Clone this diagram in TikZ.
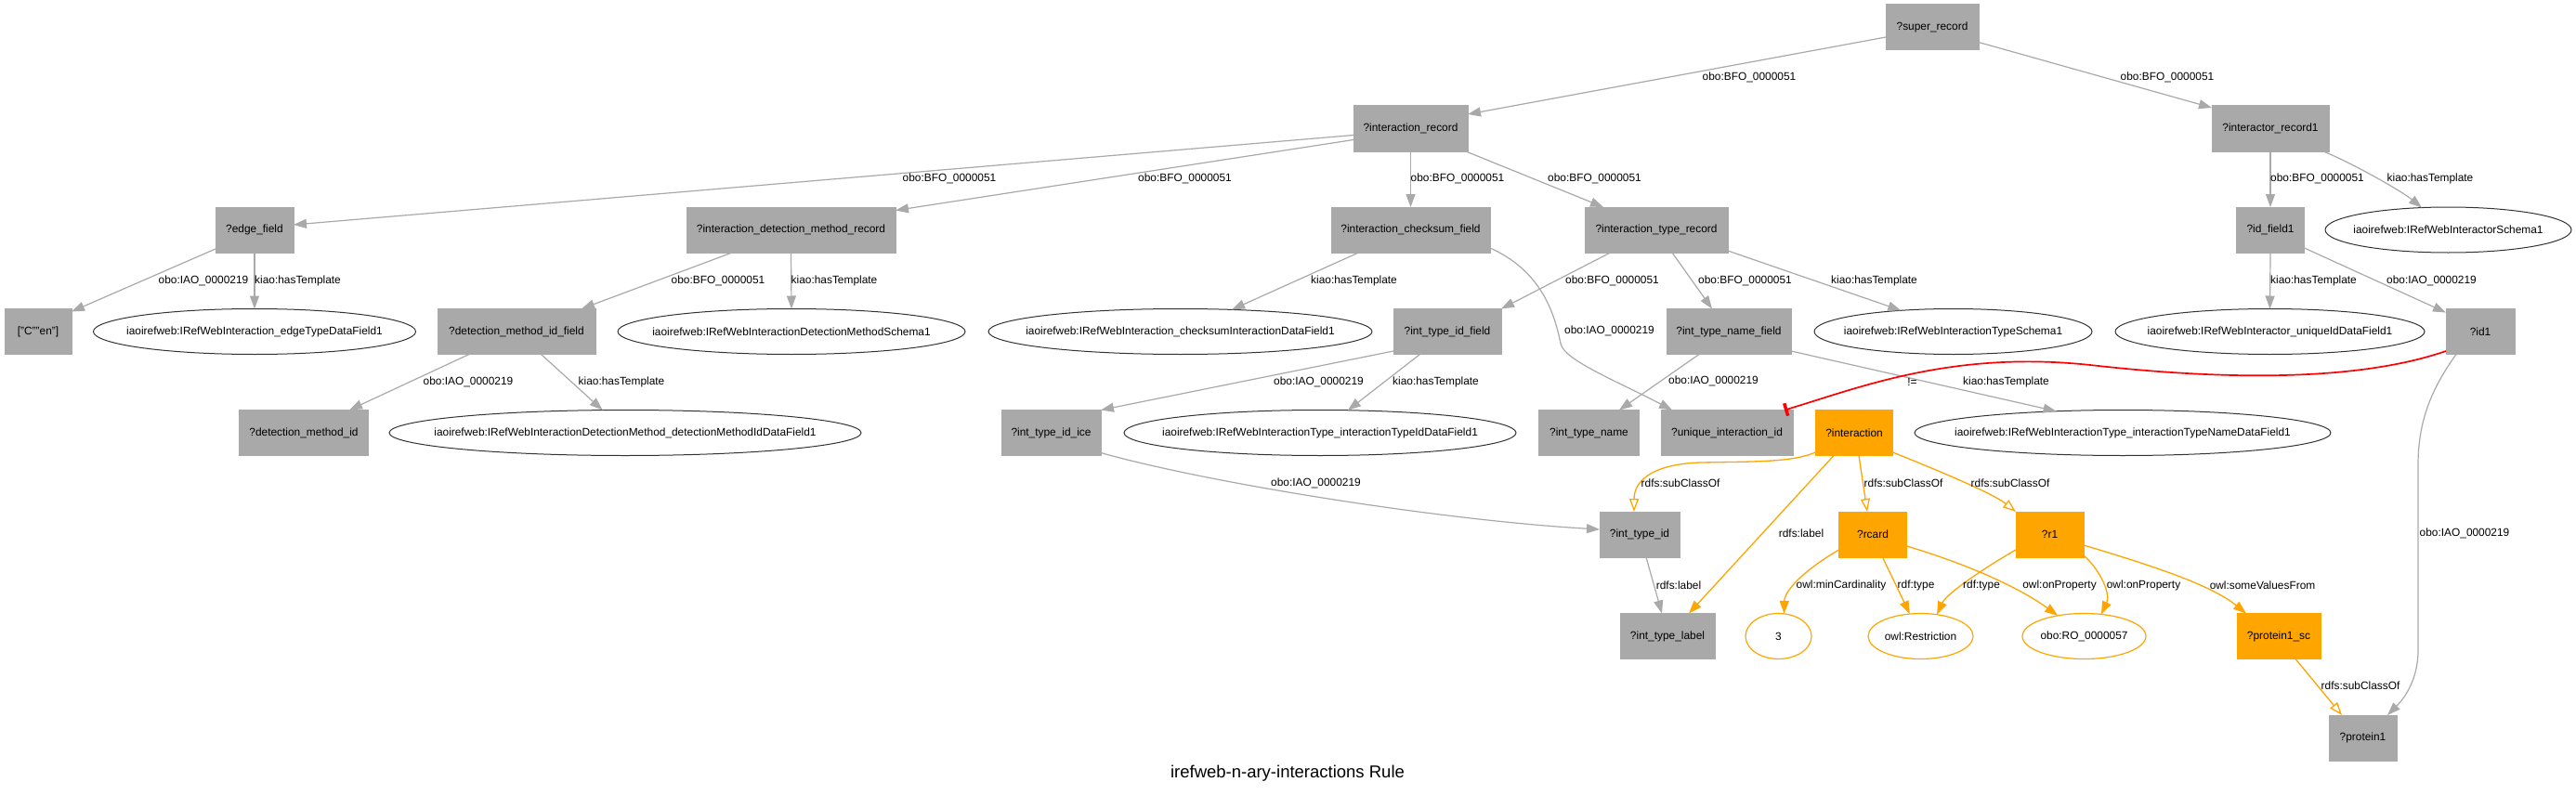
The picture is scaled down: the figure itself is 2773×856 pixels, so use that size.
\documentclass[tikz,border=0pt]{standalone}
\usepackage{fontspec}
\setmainfont{Liberation Sans}
\usetikzlibrary{shapes.geometric,arrows.meta}
\definecolor{gfill}{HTML}{A9A9A9}
\definecolor{gline}{HTML}{A9A9A9}
\definecolor{orng}{HTML}{FFA500}
\newcommand\myfont{\fontsize{11.9pt}{14pt}\selectfont}
\begin{document}
\begin{tikzpicture}[x=1pt,y=-1pt,
  gbox/.style={rectangle,fill=gfill,draw=gfill,line width=1pt,minimum height=49pt,inner sep=0pt,outer sep=0pt,font=\myfont},
  obox/.style={gbox,fill=orng,draw=orng},
  ell/.style={ellipse,draw=black!80,line width=1pt,fill=white,minimum height=49pt,inner sep=0pt,outer sep=0pt,font=\myfont},
  oell/.style={ell,draw=orng,line width=1.2pt},
  gedge/.style={draw=gline,line width=1.2pt,-{Triangle[length=14pt,width=10pt]}},
  oedge/.style={draw=orng,line width=1.3pt,-{Triangle[length=14pt,width=10pt]}},
  osub/.style={draw=orng,line width=1.3pt,-{Triangle[open,length=14pt,width=10pt,fill=white]}},
  redge/.style={draw=red,line width=1.7pt,-{Bar[width=14pt,line width=3.5pt]}},
  lbl/.style={font=\myfont,inner sep=0pt}
]
\fill[white] (0,0) rectangle (2773,856);
\useasboundingbox (0,0) rectangle (2773,856);

% boxes
\node[gbox,minimum width=100pt] (sr) at (2080,29) {?super\_record};
\node[gbox,minimum width=123pt] (ir) at (1518.5,138.5) {?interaction\_record};
\node[gbox,minimum width=126pt] (ir1) at (2444,138.5) {?interactor\_record1};
\node[gbox,minimum width=84pt] (ef) at (274,247.5) {?edge\_field};
\node[gbox,minimum width=225pt] (dmr) at (851.5,247.5) {?interaction\_detection\_method\_record};
\node[gbox,minimum width=171pt] (csf) at (1518.5,247.5) {?interaction\_checksum\_field};
\node[gbox,minimum width=154pt] (itr) at (1783,247.5) {?interaction\_type\_record};
\node[gbox,minimum width=73pt] (idf) at (2444,247.5) {?id\_field1};
\node[gbox,minimum width=72pt] (cen) at (41,357) {["C""en"]};
\node[gbox,minimum width=170pt] (dmif) at (556,357) {?detection\_method\_id\_field};
\node[gbox,minimum width=116pt] (itif) at (1558,357) {?int\_type\_id\_field};
\node[gbox,minimum width=134pt] (itnf) at (1861,357) {?int\_type\_name\_field};
\node[gbox,minimum width=74pt] (id1) at (2670,357) {?id1};
\node[gbox,minimum width=139pt] (dmi) at (327,466) {?detection\_method\_id};
\node[gbox,minimum width=107pt] (itic) at (1131.5,466) {?int\_type\_id\_ice};
\node[gbox,minimum width=108pt] (itn) at (1710.5,466) {?int\_type\_name};
\node[gbox,minimum width=142pt] (uid) at (1859,466) {?unique\_interaction\_id};
\node[obox,minimum width=83pt] (int) at (1996,466) {?interaction};
\node[gbox,minimum width=86pt] (iti) at (1765,575.5) {?int\_type\_id};
\node[obox,minimum width=73pt] (rc) at (2016,575.5) {?rcard};
\node[obox,minimum width=73pt] (r1) at (2206.5,575.5) {?r1};
\node[gbox,minimum width=102pt] (itl) at (1795,685) {?int\_type\_label};
\node[obox,minimum width=90pt] (psc) at (2453,685) {?protein1\_sc};
\node[gbox,minimum width=73pt] (p1) at (2543.5,794.5) {?protein1};

% ellipses
\node[ell,minimum width=347pt] (e1) at (274,357) {\makebox[0pt]{iaoirefweb:IRefWebInteraction\_edgeTypeDataField1}};
\node[ell,minimum width=374pt] (e2) at (852,357) {\makebox[0pt]{iaoirefweb:IRefWebInteractionDetectionMethodSchema1}};
\node[ell,minimum width=413pt] (e3) at (1270.5,357) {\makebox[0pt]{iaoirefweb:IRefWebInteraction\_checksumInteractionDataField1}};
\node[ell,minimum width=265pt] (e4) at (2635.5,247.5) {\makebox[0pt]{iaoirefweb:IRefWebInteractorSchema1}};
\node[ell,minimum width=299pt] (e5) at (2102.5,357) {\makebox[0pt]{iaoirefweb:IRefWebInteractionTypeSchema1}};
\node[ell,minimum width=333pt] (e6) at (2443.5,357) {\makebox[0pt]{iaoirefweb:IRefWebInteractor\_uniqueIdDataField1}};
\node[ell,minimum width=508pt] (e7) at (673,466) {\makebox[0pt]{iaoirefweb:IRefWebInteractionDetectionMethod\_detectionMethodIdDataField1}};
\node[ell,minimum width=422pt] (e8) at (1421,466) {\makebox[0pt]{iaoirefweb:IRefWebInteractionType\_interactionTypeIdDataField1}};
\node[ell,minimum width=448pt] (e9) at (2285,466) {\makebox[0pt]{iaoirefweb:IRefWebInteractionType\_interactionTypeNameDataField1}};
\node[oell,minimum width=71pt] (o3) at (1914.5,685) {\makebox[0pt]{3}};
\node[oell,minimum width=113pt] (ores) at (2067.5,685) {\makebox[0pt]{owl:Restriction}};
\node[oell,minimum width=133pt] (oro) at (2243.5,685) {\makebox[0pt]{obo:RO\_0000057}};

% title
\node[font=\fontsize{18.5pt}{22pt}\selectfont,inner sep=0pt] (title) at (1386,833) {irefweb-n-ary-interactions Rule};

% gray edges
\draw[gedge] ([yshift=-11pt]sr.west) -- ([yshift=15.5pt]ir.east) node[lbl] (l1) at (1883,83) {obo:BFO\_0000051};
\draw[gedge] ([yshift=-16.5pt]sr.east) -- ([yshift=-2pt]ir1.north west) node[lbl] (l2) at (2333,83) {obo:BFO\_0000051};
\draw[gedge] ([yshift=-7pt]ir.west) -- ([yshift=5.5pt]ef.east) node[lbl] (l3) at (1022,192) {obo:BFO\_0000051};
\draw[gedge] ([yshift=-12pt]ir.west) -- ([yshift=-3.5pt]dmr.north east) node[lbl] (l4) at (1275.5,192) {obo:BFO\_0000051};
\draw[gedge] (ir.south) -- (csf.north) node[lbl] (l5) at (1569,192) {obo:BFO\_0000051};
\draw[gedge] ([xshift=-2pt]ir.south east) -- ([xshift=20pt]itr.north west) node[lbl] (l6) at (1716.5,192) {obo:BFO\_0000051};
\draw[gedge] ([yshift=4pt]ef.south west) -- ([yshift=-3pt]cen.north east) node[lbl] (l7) at (219,302) {obo:IAO\_0000219};
\draw[gedge] (ef.south) -- (e1.north) node[lbl] (l8) at (320.5,302) {kiao:hasTemplate};
\draw[gedge] ([xshift=-63.5pt]dmr.south) -- ([xshift=-15pt]dmif.north east) node[lbl] (l9) at (773,302) {obo:BFO\_0000051};
\draw[gedge] (dmr.south) -- (e2.north) node[lbl] (l10) at (898,302) {kiao:hasTemplate};
\draw[gedge] ([xshift=-56pt]csf.south) -- (e3.23) node[lbl] (l11) at (1457.5,302) {kiao:hasTemplate};
\draw[gedge] ([yshift=-19.5pt]csf.east) .. controls (1655,290) and (1672,330) .. (1680,370) .. controls (1684,388) and (1740,410) .. ([xshift=12pt]uid.north west) node[lbl] (l12) at (1732.5,356) {obo:IAO\_0000219};
\draw[gedge] ([xshift=-49.5pt]itr.south) -- (itif.north east) node[lbl] (l13) at (1735.5,302) {obo:BFO\_0000051};
\draw[gedge] ([xshift=17pt]itr.south) -- ([xshift=-18pt]itnf.north) node[lbl] (l14) at (1878.5,302) {obo:BFO\_0000051};
\draw[gedge] ([yshift=2pt]itr.south east) -- (e5.158) node[lbl] (l15) at (2017.5,302) {kiao:hasTemplate};
\draw[gedge] (ir1.south) -- (idf.north) node[lbl] (l16) at (2494.5,192) {obo:BFO\_0000051};
\draw[gedge] ([xshift=-6pt]ir1.south east) .. controls +(30,12) and +(-22,-18) .. (e4.140) node[lbl] (l17) at (2616,192) {kiao:hasTemplate};
\draw[gedge] (idf.south) -- (e6.north) node[lbl] (l18) at (2490.5,302) {kiao:hasTemplate};
\draw[gedge] ([yshift=-19.5pt]idf.east) -- ([yshift=-4pt]id1.north west) node[lbl] (l19) at (2617.5,302) {obo:IAO\_0000219};
\draw[gedge] ([yshift=-21pt]itif.west) -- (itic.north east) node[lbl] (l20) at (1419.5,411) {obo:IAO\_0000219};
\draw[gedge] ([xshift=-29.5pt]itif.south) -- (e8.39) node[lbl] (l21) at (1545.5,411) {kiao:hasTemplate};
\draw[gedge] ([xshift=-32pt]itnf.south) -- ([xshift=-21.5pt]itn.north east) node[lbl] (l22) at (1844.5,410.5) {obo:IAO\_0000219};
\draw[gedge] ([yshift=-21pt]itnf.east) -- (e9.162) node[lbl] (l23) at (2159.5,411) {kiao:hasTemplate};
\draw[gedge] ([xshift=-51pt]dmif.south) -- ([xshift=-20.5pt]dmi.north east) node[lbl] (l24) at (504,411) {obo:IAO\_0000219};
\draw[gedge] ([xshift=26.5pt]dmif.south) -- (e7.135) node[lbl] (l25) at (669,411) {kiao:hasTemplate};
\draw[gedge] ([yshift=3pt]itic.south east) .. controls (1300,520) and (1550,560) .. ([yshift=5.5pt]iti.west) node[lbl] (l26) at (1416.5,520) {obo:IAO\_0000219};
\draw[gedge] ([xshift=7pt]iti.south) -- ([xshift=-6pt]itl.north) node[lbl] (l27) at (1807,630) {rdfs:label};
\draw[gedge] ([xshift=-26pt]id1.south) .. controls (2620,415) and (2603,450) .. (2603,500) -- (2603,700) .. controls (2603,730) and (2590,750) .. ([xshift=26.5pt]p1.north) node[lbl] (l28) at (2653,574.5) {obo:IAO\_0000219};

% red edge
\draw[redge] ([yshift=-21pt]id1.west) .. controls (2540,410) and (2400,410) .. (2250,393) .. controls (2100,377) and (2000,418) .. ([xshift=-9pt]uid.north east) node[lbl] (l29) at (2058.5,411) {!=};

% orange edges
\draw[osub] ([yshift=-21pt]int.west) .. controls (1930,497) and (1900,497) .. (1830,498) .. controls (1775,500) and (1759,520) .. ([xshift=-6pt]iti.north) node[lbl] (l30) at (1809,520) {rdfs:subClassOf};
\draw[oedge] ([xshift=-22pt]int.south) -- ([xshift=23pt]itl.north) node[lbl] (l31) at (1939,574) {rdfs:label};
\draw[osub] ([xshift=5pt]int.south) -- ([xshift=-6pt]rc.north) node[lbl] (l32) at (2049,520) {rdfs:subClassOf};
\draw[osub] ([yshift=-21pt]int.east) .. controls +(45,18) and +(-25,-20) .. (r1.north west) node[lbl] (l33) at (2164,520) {rdfs:subClassOf};
\draw[oedge] ([yshift=-16.5pt]rc.west) .. controls (1945,612) and (1921,635) .. (o3.76) node[lbl] (l34) at (1982,630) {owl:minCardinality};
\draw[oedge] ([xshift=10.5pt]rc.south) -- (ores.116) node[lbl] (l35) at (2062.5,630) {rdf:type};
\draw[oedge] ([yshift=-12.5pt]rc.east) .. controls (2110,605) and (2170,630) .. (oro.142) node[lbl] (l36) at (2217,630) {owl:onProperty};
\draw[oedge] ([yshift=-16.5pt]r1.west) .. controls (2130,615) and (2095,640) .. (ores.53) node[lbl] (l37) at (2133,630) {rdf:type};
\draw[oedge] ([yshift=-22.5pt]r1.east) .. controls (2262,615) and (2272,640) .. (oro.52) node[lbl] (l38) at (2307.5,630) {owl:onProperty};
\draw[oedge] ([yshift=-11.5pt]r1.east) .. controls (2320,610) and (2380,630) .. ([xshift=10pt]psc.north west) node[lbl] (l39) at (2435.5,630) {owl:someValuesFrom};
\draw[osub] ([xshift=18pt]psc.south) -- ([xshift=-22.5pt]p1.north) node[lbl] (l40) at (2541,738) {rdfs:subClassOf};
\end{tikzpicture}
\end{document}
